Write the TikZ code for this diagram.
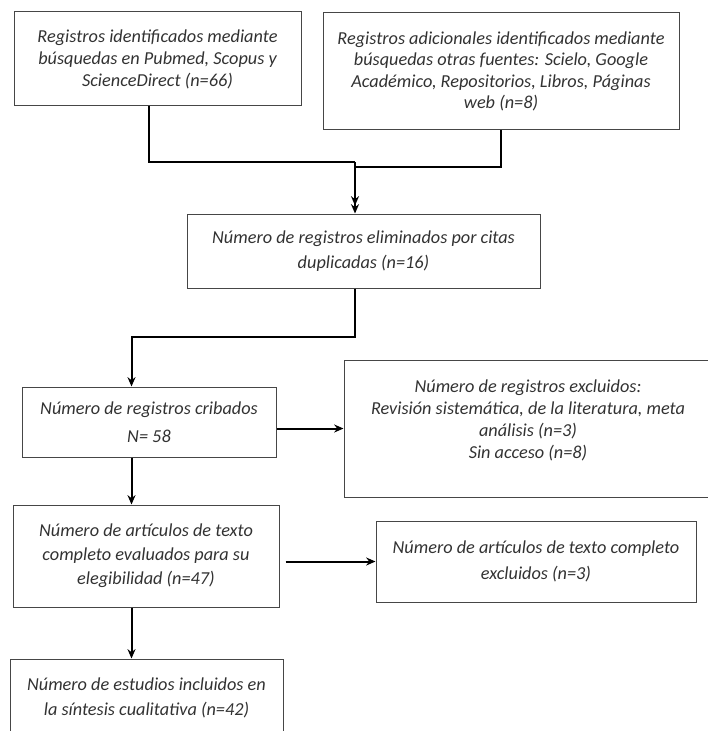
\documentclass[tikz,border=0pt]{standalone}
\usepackage{fontspec}
\setmainfont{Carlito}
\usetikzlibrary{arrows.meta}

\definecolor{borde}{RGB}{70,70,70}
\definecolor{texto}{RGB}{50,50,50}

\tikzset{
	caja/.style 2 args={draw=borde,line width=0.75pt,text=texto,align=center,inner sep=0pt,
		minimum width=#1*0.75pt,minimum height=#2*0.75pt,
		font=\itshape\fontsize{13.7pt}{16.5pt}\selectfont},
	interlinea/.style={font=\itshape\fontsize{13.7pt}{#1}\selectfont},
	flecha/.style={line width=1.5pt,-{Stealth[length=7pt,width=6pt]}},
	linea/.style={line width=1.5pt}
}

\begin{document}
\begin{tikzpicture}[x=0.75pt,y=-0.75pt]

	\useasboundingbox (0,0) rectangle (707,731);

	\def\eje{131.5}
	\def\centro{355}

	% identificacion
	\node[caja={287}{94}] (A) at (157.5,59) {Registros identificados mediante\\ búsquedas en Pubmed, Scopus y\\ ScienceDirect (n=66)};
	\node[caja={356}{117},interlinea=16.2pt] (B) at (501,71.5) {Registros adicionales identificados mediante\\ búsquedas otras fuentes: Scielo, Google\\ Académico, Repositorios, Libros, Páginas\\ web (n=8)};

	\node[caja={353}{74},interlinea=18.75pt] (C) at (363.5,251) {Número de registros eliminados por citas\\ duplicadas (n=16)};

	% cribado
	\node[caja={254}{70},interlinea=21pt] (D) at (149,422) {Número de registros cribados\\ N= 58};
	\node[caja={368}{137},interlinea=16.5pt] (E) at (528,428.5) {Número de registros excluidos:\\ Revisión sistemática, de la literatura, meta\\ análisis (n=3)\\ Sin acceso (n=8)\\[-3pt]\mbox{}};

	% elegibilidad
	\node[caja={266}{102},interlinea=18pt] (F) at (146,556) {Número de artículos de texto\\ completo evaluados para su\\ elegibilidad (n=47)};
	\node[caja={320}{81},interlinea=19.5pt] (G) at (536,561.5) {Número de artículos de texto completo\\ excluidos (n=3)};

	% incluidos
	\node[caja={273}{78},interlinea=18.75pt] (H) at (146.5,698) {Número de estudios incluidos en\\ la síntesis cualitativa (n=42)};

	\coordinate (codoA) at (\centro,162);
	\coordinate (codoB) at (\centro,167);
	\coordinate (codoC) at (\eje,337);

	\draw[linea] ([xshift=-6.4pt]A.south) |- (codoA);
	\draw[linea] (B.south) |- (codoB);
	\draw[flecha] (codoA) -- (codoA |- C.north);
	\draw[flecha] (codoB) -- ([yshift=6pt]codoB |- C.north);

	\draw[flecha] (codoA |- C.south) |- (codoC) -- (codoC |- D.north);
	\draw[flecha] (E.west -| D.east) -- (E.west);
	\draw[flecha] (codoC |- D.south) -- (codoC |- F.north);
	\draw[flecha] ([xshift=4.5pt]G.west -| F.east) -- (G.west);
	\draw[flecha] (codoC |- F.south) -- (codoC |- H.north);

\end{tikzpicture}
\end{document}
